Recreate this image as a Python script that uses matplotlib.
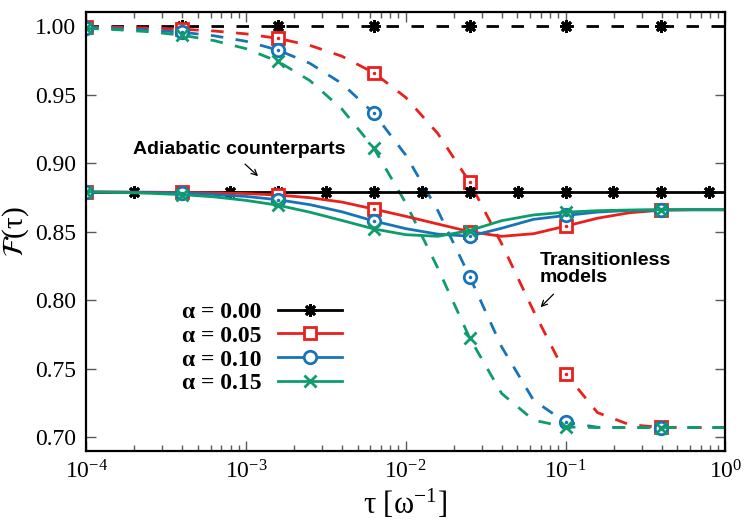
import numpy as np
import matplotlib
matplotlib.use("Agg")
import matplotlib.pyplot as plt

plt.rcParams['font.family'] = 'serif'
plt.rcParams['font.serif'] = ['Liberation Serif', 'DejaVu Serif']
plt.rcParams['mathtext.fontset'] = 'stix'

# tau grid (0.2 decade steps) for the alpha curves
tau = [1e-4, 1.585e-4, 2.512e-4, 3.981e-4, 6.310e-4, 1e-3, 1.585e-3, 2.512e-3, 3.981e-3,
       6.310e-3, 1e-2, 1.585e-2, 2.512e-2, 3.981e-2, 6.310e-2, 0.1, 0.1585, 0.2512,
       0.3981, 0.6310, 1.0]
# tau grid for the alpha = 0 adiabatic line (0.3 decade steps)
tau_black = [1e-4, 1.995e-4, 3.981e-4, 7.943e-4, 1.585e-3, 3.162e-3, 6.310e-3, 1.259e-2,
             2.512e-2, 5.012e-2, 0.1, 0.1995, 0.3981, 0.7943, 1.0]

alpha_labels = ['α = 0.00', 'α = 0.05', 'α = 0.10', 'α = 0.15']

# transitionless models (dashed)
black_tl = [1.0] * 21
red_tl = [0.9994, 0.9991, 0.9985, 0.9977, 0.9964, 0.9943, 0.9910, 0.9859, 0.9780, 0.9659,
          0.9479, 0.9217, 0.8861, 0.8413, 0.7921, 0.7465, 0.7180, 0.7092, 0.7072, 0.7071, 0.7071]
blue_tl = [0.9989, 0.9982, 0.9971, 0.9955, 0.9929, 0.9889, 0.9825, 0.9728, 0.9581, 0.9364,
           0.9059, 0.8656, 0.8172, 0.7660, 0.7270, 0.7110, 0.7073, 0.7071, 0.7071, 0.7071, 0.7071]
green_tl = [0.9983, 0.9973, 0.9958, 0.9933, 0.9894, 0.9835, 0.9742, 0.9602, 0.9395, 0.9110,
            0.8709, 0.8236, 0.7725, 0.7320, 0.7125, 0.7075, 0.7071, 0.7071, 0.7071, 0.7071, 0.7071]

# adiabatic counterparts (solid)
black_ad = [0.879] * 15
red_ad = [0.8790, 0.8789, 0.8788, 0.8786, 0.8783, 0.8778, 0.8767, 0.8748, 0.8716, 0.8665,
          0.8612, 0.8556, 0.8500, 0.8466, 0.8485, 0.8540, 0.8598, 0.8638, 0.8657, 0.8660, 0.8660]
blue_ad = [0.8790, 0.8788, 0.8785, 0.8780, 0.8771, 0.8757, 0.8733, 0.8697, 0.8645, 0.8578,
           0.8522, 0.8482, 0.8467, 0.8525, 0.8590, 0.8618, 0.8643, 0.8655, 0.8659, 0.8660, 0.8660]
green_ad = [0.8790, 0.8786, 0.8780, 0.8770, 0.8754, 0.8728, 0.8693, 0.8642, 0.8582, 0.8520,
            0.8478, 0.8466, 0.8508, 0.8580, 0.8622, 0.8642, 0.8653, 0.8658, 0.8660, 0.8660, 0.8660]

colors = ['black', '#e8211d', '#1874b8', '#0e9c6c']
star = (8, 2, 0)

fig = plt.figure(figsize=(7.5, 5.25), dpi=100)
ax = fig.add_axes([0.115, 0.141, 0.852, 0.836])

lw = 2.0
ms = 9
mew = 2.0
dash = (4.5, 4.5)

# dashed transitionless
ax.plot(tau, black_tl, color=colors[0], lw=lw, dashes=dash, marker=star, ms=ms, mew=mew,
        markevery=3)
ax.plot(tau, red_tl, color=colors[1], lw=lw, dashes=dash, marker='s', ms=ms, mew=mew,
        mfc='white', markevery=3)
ax.plot(tau, red_tl, ls='none', color=colors[1], marker='.', ms=3, markevery=3)
ax.plot(tau, blue_tl, color=colors[2], lw=lw, dashes=dash, marker='o', ms=ms, mew=mew,
        mfc='white', markevery=3)
ax.plot(tau, blue_tl, ls='none', color=colors[2], marker='.', ms=3, markevery=3)
ax.plot(tau, green_tl, color=colors[3], lw=lw, dashes=dash, marker='x', ms=ms, mew=mew,
        markevery=3)

# solid adiabatic
l0, = ax.plot(tau_black, black_ad, color=colors[0], lw=lw, marker=star, ms=ms, mew=mew,
              markevery=list(range(14)))
l1, = ax.plot(tau, red_ad, color=colors[1], lw=lw, marker='s', ms=ms, mew=mew, mfc='white',
              markevery=3)
ax.plot(tau, red_ad, ls='none', color=colors[1], marker='.', ms=3, markevery=3)
l2, = ax.plot(tau, blue_ad, color=colors[2], lw=lw, marker='o', ms=ms, mew=mew, mfc='white',
              markevery=3)
ax.plot(tau, blue_ad, ls='none', color=colors[2], marker='.', ms=3, markevery=3)
l3, = ax.plot(tau, green_ad, color=colors[3], lw=lw, marker='x', ms=ms, mew=mew, markevery=3)

ax.set_xscale('log')
ax.set_xlim(1e-4, 1)
ax.set_ylim(0.69, 1.0102)
ax.set_yticks([0.70, 0.75, 0.80, 0.85, 0.90, 0.95, 1.00])
ax.set_yticklabels(['0.70', '0.75', '0.80', '0.85', '0.90', '0.95', '1.00'])

ax.tick_params(which='both', direction='in', top=True, right=True, labelsize=17, color='0.35')
ax.tick_params(which='major', length=7, width=1, pad=7)
ax.tick_params(which='minor', length=4, width=1)
for s in ax.spines.values():
    s.set_linewidth(1.6)

ax.set_xlabel('τ [ω$^{\\mathdefault{-1}}$]', fontsize=22, labelpad=2)
ax.set_ylabel(r'$\mathcal{F}$(τ)', fontsize=21)
ax.yaxis.set_label_coords(-0.086, 0.5)

# legend: label first, then line sample
leg = ax.legend([l0, l1, l2, l3], alpha_labels, loc='center', bbox_to_anchor=(0.275, 0.235),
                frameon=False, markerfirst=False, handlelength=2.7, handletextpad=0.7,
                labelspacing=0.1, borderpad=0,
                prop={'family': 'serif', 'weight': 'bold', 'size': 17})

ax.text(1.97e-4, 0.9102, 'Adiabatic counterparts', fontsize=14, fontweight='bold',
        family='Liberation Sans', va='center', ha='left')
ax.annotate('', xy=(1.19e-3, 0.8905), xytext=(9.86e-4, 0.8993),
            arrowprops=dict(arrowstyle='->', lw=0.9, color='black', shrinkA=0, shrinkB=0))
ax.text(0.0688, 0.8226, 'Transitionless\nmodels', fontsize=14, fontweight='bold',
        family='Liberation Sans', va='center', ha='left', linespacing=1.0)
ax.annotate('', xy=(0.0698, 0.7949), xytext=(0.0841, 0.8044),
            arrowprops=dict(arrowstyle='->', lw=0.9, color='black', shrinkA=0, shrinkB=0))

plt.savefig('out.png', dpi=100)
